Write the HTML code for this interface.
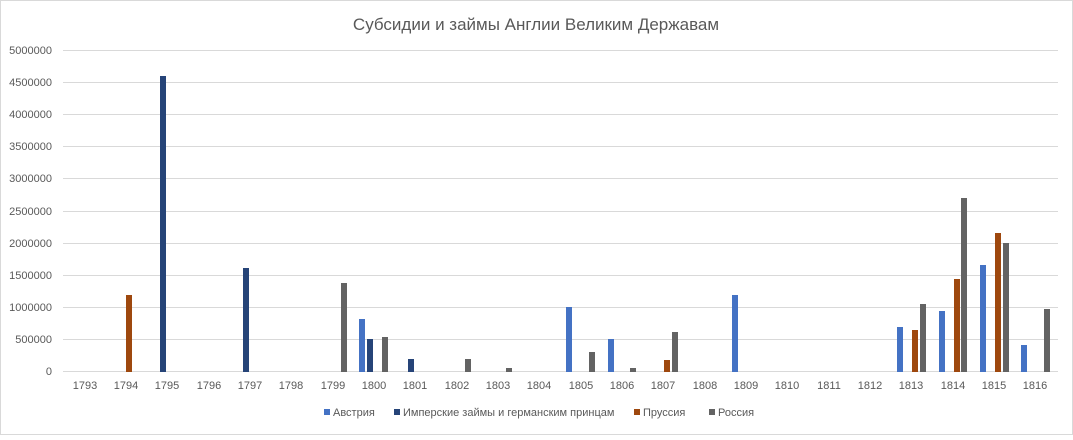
<!DOCTYPE html>
<html><head><meta charset="utf-8"><style>
html,body{margin:0;padding:0;background:#fff;}
svg text{font-family:"Liberation Sans","DejaVu Sans",sans-serif;}
</style></head><body>
<svg width="1073" height="435" viewBox="0 0 1073 435" xmlns="http://www.w3.org/2000/svg">
<rect x="0.5" y="0.5" width="1072" height="434" fill="#fff" stroke="#d9d9d9"/>
<text x="536" y="30" text-anchor="middle" font-size="17" fill="#595959">Субсидии и займы  Англии Великим Державам</text>
<g stroke="#d9d9d9" stroke-width="1">
<line x1="63" x2="1058" y1="50.5" y2="50.5"/>
<line x1="63" x2="1058" y1="82.5" y2="82.5"/>
<line x1="63" x2="1058" y1="114.5" y2="114.5"/>
<line x1="63" x2="1058" y1="146.5" y2="146.5"/>
<line x1="63" x2="1058" y1="178.5" y2="178.5"/>
<line x1="63" x2="1058" y1="211.5" y2="211.5"/>
<line x1="63" x2="1058" y1="243.5" y2="243.5"/>
<line x1="63" x2="1058" y1="275.5" y2="275.5"/>
<line x1="63" x2="1058" y1="307.5" y2="307.5"/>
<line x1="63" x2="1058" y1="339.5" y2="339.5"/>
<line x1="63" x2="1058" y1="371.5" y2="371.5"/>
</g>
<g font-size="11" fill="#595959" text-anchor="end">
<text x="52" y="54">5000000</text><text x="52" y="86">4500000</text><text x="52" y="118">4000000</text>
<text x="52" y="150">3500000</text><text x="52" y="182">3000000</text><text x="52" y="215">2500000</text>
<text x="52" y="247">2000000</text><text x="52" y="279">1500000</text><text x="52" y="311">1000000</text>
<text x="52" y="343">500000</text><text x="52" y="375">0</text>
</g>
<g font-size="11" fill="#595959" text-anchor="middle">
<text x="85" y="389">1793</text><text x="126" y="389">1794</text><text x="167" y="389">1795</text>
<text x="209" y="389">1796</text><text x="250" y="389">1797</text><text x="291" y="389">1798</text>
<text x="333" y="389">1799</text><text x="374" y="389">1800</text><text x="415" y="389">1801</text>
<text x="457" y="389">1802</text><text x="498" y="389">1803</text><text x="539" y="389">1804</text>
<text x="581" y="389">1805</text><text x="622" y="389">1806</text><text x="663" y="389">1807</text>
<text x="705" y="389">1808</text><text x="746" y="389">1809</text><text x="787" y="389">1810</text>
<text x="829" y="389">1811</text><text x="870" y="389">1812</text><text x="911" y="389">1813</text>
<text x="953" y="389">1814</text><text x="994" y="389">1815</text><text x="1035" y="389">1816</text>
</g>
<g fill="#4472c4">
<rect x="359" y="319" width="6" height="53"/>
<rect x="566" y="307" width="6" height="65"/>
<rect x="608" y="339" width="6" height="33"/>
<rect x="732" y="295" width="6" height="77"/>
<rect x="897" y="327" width="6" height="45"/>
<rect x="939" y="311" width="6" height="61"/>
<rect x="980" y="265" width="6" height="107"/>
<rect x="1021" y="345" width="6" height="27"/>
</g>
<g fill="#264478">
<rect x="160" y="76" width="6" height="296"/>
<rect x="243" y="268" width="6" height="104"/>
<rect x="367" y="339" width="6" height="33"/>
<rect x="408" y="359" width="6" height="13"/>
</g>
<g fill="#9e480e">
<rect x="126" y="295" width="6" height="77"/>
<rect x="664" y="360" width="6" height="12"/>
<rect x="912" y="330" width="6" height="42"/>
<rect x="954" y="279" width="6" height="93"/>
<rect x="995" y="233" width="6" height="139"/>
</g>
<g fill="#636363">
<rect x="341" y="283" width="6" height="89"/>
<rect x="382" y="337" width="6" height="35"/>
<rect x="465" y="359" width="6" height="13"/>
<rect x="506" y="368" width="6" height="4"/>
<rect x="589" y="352" width="6" height="20"/>
<rect x="630" y="368" width="6" height="4"/>
<rect x="672" y="332" width="6" height="40"/>
<rect x="920" y="304" width="6" height="68"/>
<rect x="961" y="198" width="6" height="174"/>
<rect x="1003" y="243" width="6" height="129"/>
<rect x="1044" y="309" width="6" height="63"/>
</g>
<g font-size="11" fill="#595959">
<rect x="324" y="409" width="6" height="6" fill="#4472c4"/><text x="333" y="416">Австрия</text>
<rect x="394" y="409" width="6" height="6" fill="#264478"/><text x="403" y="416">Имперские займы и германским принцам</text>
<rect x="634" y="409" width="6" height="6" fill="#9e480e"/><text x="643" y="416">Пруссия</text>
<rect x="709" y="409" width="6" height="6" fill="#636363"/><text x="718" y="416">Россия</text>
</g>
</svg>
</body></html>
